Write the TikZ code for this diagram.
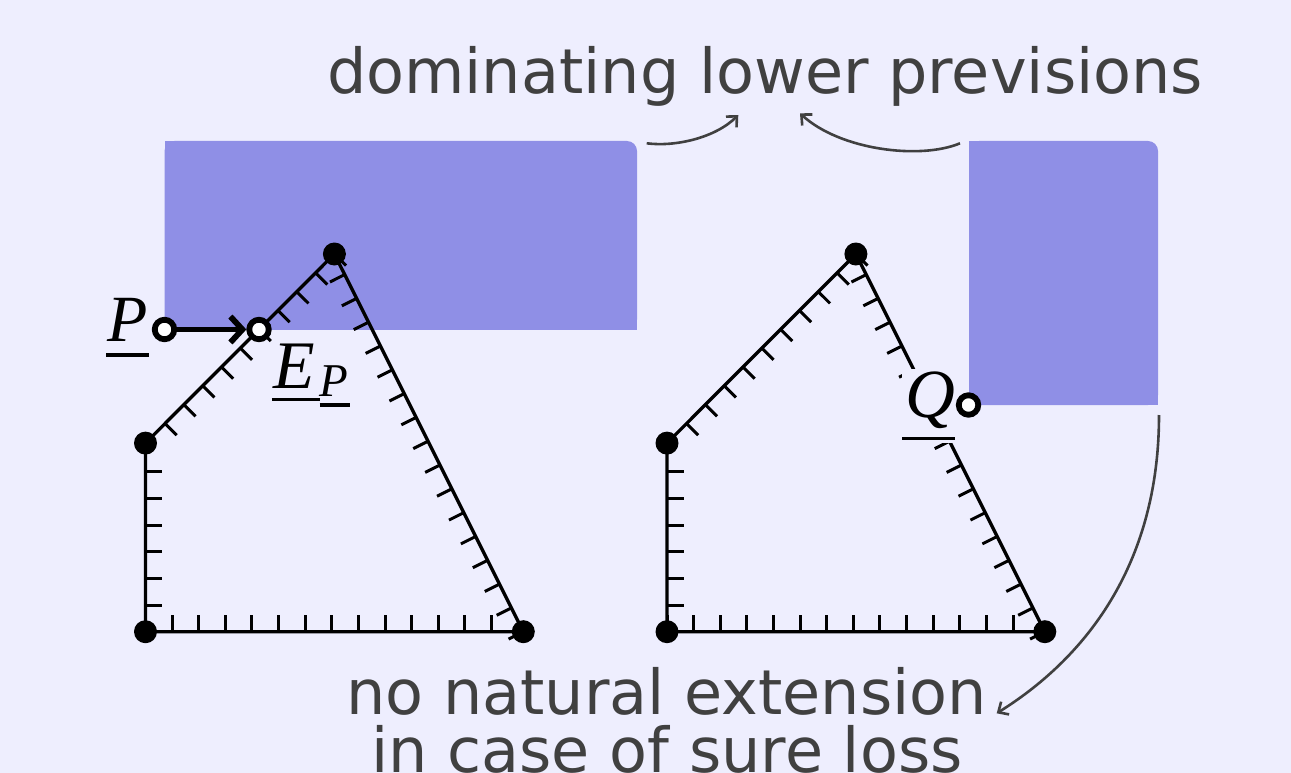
\documentclass[tikz,border=0pt]{standalone}
\usepackage{fontspec}
\usetikzlibrary{calc,arrows.meta}
\newfontfamily\dejavu{DejaVu Sans}
\newfontfamily\lserif{Liberation Serif}
\definecolor{bgc}{RGB}{238,238,254}
\definecolor{blu}{RGB}{143,143,230}
\definecolor{txtg}{RGB}{64,64,64}
\newsavebox\ulsave
% #1 left extension, #2 right extension, #3 gap below baseline, #4 content
\newcommand\ulx[4]{\sbox\ulsave{#4}\rlap{\hspace*{-#1}\rule[-\dimexpr#3+3.3pt\relax]{\dimexpr\wd\ulsave+#1+#2\relax}{3.3pt}}\usebox\ulsave}
\newcommand\pentagonticks[1]{%
  \draw[pedge] (#1A) -- (#1B) -- (#1C) -- (#1D) -- cycle;
  \foreach \k in {0,...,13}
    \draw[ptick] ($(#1A)!\k*26.62pt!(#1B)$) -- ($(#1A)!\k*26.62pt!(#1B)!16.5pt!90:(#1B)$);
  \foreach \k in {0,...,15}
    \draw[ptick] ($(#1B)!\k*26.62pt!(#1C)$) -- ($(#1B)!\k*26.62pt!(#1C)!16.5pt!90:(#1C)$);
  \foreach \k in {0,...,9}
    \draw[ptick] ($(#1C)!\k*26.62pt!(#1D)$) -- ($(#1C)!\k*26.62pt!(#1D)!16.5pt!90:(#1D)$);
  \foreach \k in {1,...,6}
    \draw[ptick] ($(#1A)!\k*26.62pt!(#1D)$) -- ($(#1A)!\k*26.62pt!(#1D)!16.5pt!-90:(#1D)$);
}
\begin{document}
\begin{tikzpicture}[x=1pt,y=-1pt,
  pedge/.style={line width=3.3pt,line join=round},
  ptick/.style={line width=3pt},
  vdot/.style={circle,fill=black,inner sep=0pt,minimum size=23pt},
  hpt/.style={circle,draw=black,fill=white,line width=5.8pt,inner sep=0pt,minimum size=19.5pt},
  lbl/.style={inner sep=0pt,font=\lserif\itshape\fontsize{66}{66}\selectfont},
  bigtxt/.style={inner sep=0pt,text=txtg,font=\dejavu\fontsize{62}{62}\selectfont},
  carrow/.style={draw=txtg,line width=2.6pt,-{Straight Barb[length=8pt,width=15pt]}},
  region/.style={fill=blu}]

\fill[bgc] (0,0) rectangle (1291,773);
\useasboundingbox (0,0) rectangle (1291,773);

% dominating regions
\fill[region,rounded corners=10pt] (164.5,141) rectangle (637,329.5);
\fill[region] (164.5,141) rectangle (620,329.5);
\fill[region] (164.5,170) rectangle (637,329.5);
\fill[region,rounded corners=10pt] (969,141) rectangle (1158,405);
\fill[region] (969,141) rectangle (1140,405);
\fill[region] (969,170) rectangle (1158,405);

% vertices
\coordinate (lA) at (145.5,631.7);
\coordinate (lB) at (523.3,631.7);
\coordinate (lC) at (334.4,254);
\coordinate (lD) at (145.5,443.1);
\coordinate (rA) at (667,631.7);
\coordinate (rB) at (1044.8,631.7);
\coordinate (rC) at (855.9,254);
\coordinate (rD) at (667,443.1);

\pentagonticks{l}
\pentagonticks{r}

\foreach \p in {lA,lB,lC,lD,rA,rB,rC,rD}
  \node[vdot] (dot\p) at (\p) {};

% labels
\node[lbl,anchor=base west] (Plbl) at (107,341.7) {\ulx{1pt}{1pt}{11.6pt}{P}};
\node[lbl,anchor=base west] (EPlbl) at (273,388.3)
  {\fontsize{68}{68}\selectfont\ulx{1.3pt}{0pt}{9.4pt}{E}\ulx{0pt}{0pt}{9.4pt}{\kern5pt}\raisebox{-8.4pt}{\fontsize{47}{47}\selectfont\ulx{0pt}{2pt}{6.6pt}{P}}};
\node[lbl,fill=bgc,minimum width=56pt,minimum height=74pt,font=\lserif\itshape\fontsize{69}{69}\selectfont] (Qlbl) at (930,405.6) {\ulx{3pt}{0pt}{19.5pt}{Q}};

% points
\node[hpt] (Ppt) at (164.5,329.5) {};
\node[hpt] (EPpt) at (259,329.5) {};
\node[hpt] (Qpt) at (968.5,405) {};
\draw[line width=5.8pt,-{Straight Barb[length=12pt,width=26pt]}] (Ppt) -- (EPpt);

% texts
\node[bigtxt,anchor=base] (title) at (765,93.3) {dominating lower previsions};
\node[bigtxt,anchor=base] (noext1) at (666.5,714.3) {no natural extension};
\node[bigtxt,anchor=base] (noext2) at (667,772.7) {in case of sure loss};

% curved connectors
\coordinate (a1s) at (646.7,143.3);
\coordinate (a1e) at (738.3,115);
\coordinate (a2s) at (960,143.3);
\coordinate (a2e) at (800,113.3);
\coordinate (a3s) at (1159,415);
\coordinate (a3e) at (996.7,713.3);
\draw[carrow] (a1s) .. controls (675,147) and (715,138) .. (a1e);
\draw[carrow] (a2s) .. controls (920,160) and (840,150) .. (a2e);
\draw[carrow] (a3s) .. controls (1159,560) and (1090,655) .. (a3e);
\end{tikzpicture}
\end{document}
